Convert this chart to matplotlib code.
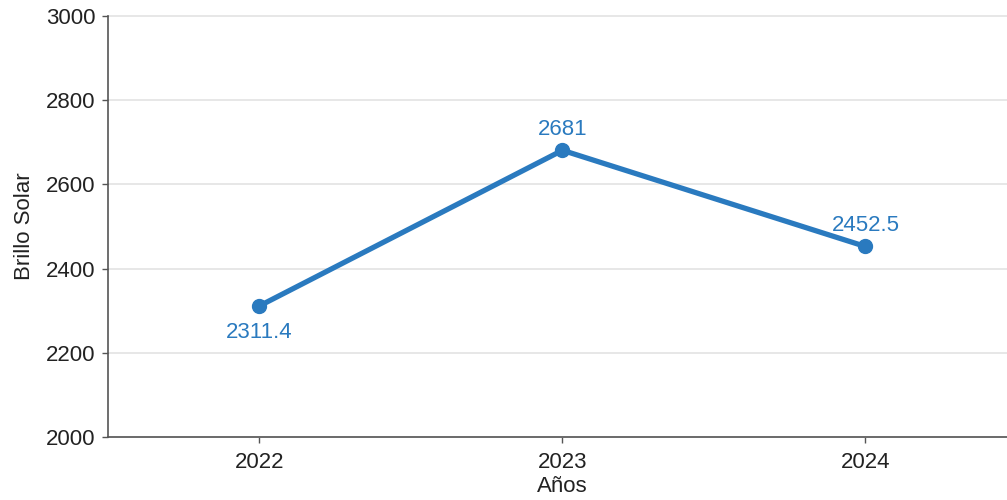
import matplotlib.pyplot as plt

plt.rcParams['font.family'] = ['Liberation Sans', 'DejaVu Sans']

years = ['2022', '2023', '2024']
brillo = [2311.4, 2681, 2452.5]
labels = ['2311.4', '2681', '2452.5']
offsets = [-19, 15, 15]

fig = plt.figure(figsize=(10.07, 5.0), dpi=100)
ax = fig.add_axes([0.1072, 0.126, 0.9027, 0.842])

color = '#2a7abf'
xs = list(range(len(years)))
ax.plot(xs, brillo, color=color, linewidth=3.8, marker='o', markersize=10, zorder=3)
for x, y, lab, off in zip(xs, brillo, labels, offsets):
	ax.annotate(lab, (x, y), xytext=(0, off), textcoords='offset points',
		ha='center', va='center', fontsize=16, color=color)

ax.set_xlim(-0.5, 2.5)
ax.set_ylim(2000, 3000)
ax.set_xticks(xs)
ax.set_xticklabels(years)
ax.set_yticks(range(2000, 3001, 200))
ax.tick_params(labelsize=16, colors='#222222', length=4, width=1, color='#555555')
ax.tick_params(axis='x', pad=7)
ax.tick_params(axis='y', pad=5)
ax.grid(axis='y', color='#e3e3e3', linewidth=1.2)
for gl in ax.get_ygridlines():
	gl.set_clip_on(False)
ax.set_axisbelow(True)
for s in ['top', 'right']:
	ax.spines[s].set_visible(False)
for s in ['left', 'bottom']:
	ax.spines[s].set_color('#555555')
	ax.spines[s].set_linewidth(1.2)
ax.set_ylabel('Brillo Solar', fontsize=16, color='#222222', labelpad=8)
ax.set_xlabel('Años', fontsize=16, color='#222222', labelpad=2)

fig.savefig('out.png', dpi=100)
